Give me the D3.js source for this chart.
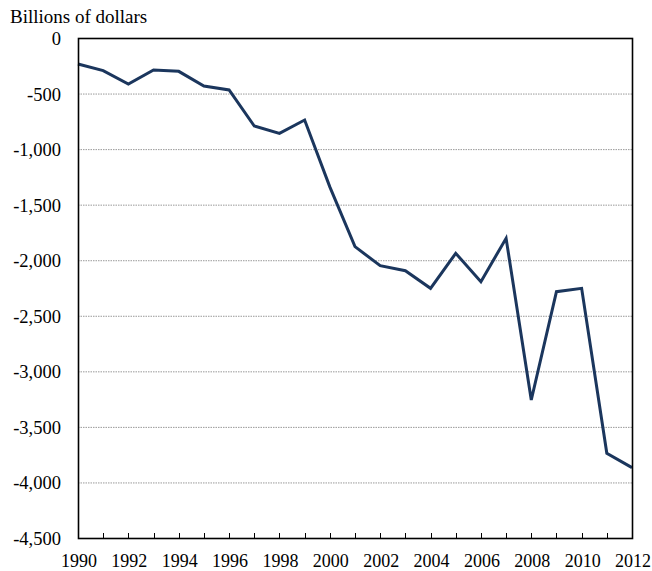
<!DOCTYPE html>
<html><head><meta charset="utf-8">
<script src="https://cdn.jsdelivr.net/npm/d3@7"></script>
<style>body{margin:0;background:#fff}svg{display:block}</style>
</head><body><svg id="c" width="652" height="571" font-family="'Liberation Serif', 'Times New Roman', Times, serif"></svg>
<script>
const years = d3.range(1990, 2013);
const values = [-234,-294,-414,-288,-300,-432,-468,-792,-858,-738,-1340,-1878,-2049,-2094,-2253,-1938,-2193,-1803,-3258,-2283,-2253,-3738,-3867];
const yTicks = [0,-500,-1000,-1500,-2000,-2500,-3000,-3500,-4000,-4500];
const xLabels = d3.range(1990, 2013, 2);
const yTitle = "Billions of dollars";

const svg = d3.select("#c");
const FONT = "'Liberation Serif', 'Times New Roman', Times, serif";
const L=78, R=632, T=38, B=538;
const x = d3.scaleLinear().domain([1990,2012]).range([L,R]);
const y = d3.scaleLinear().domain([0,-4500]).range([T,B]);
const loc = d3.formatLocale({decimal:".", thousands:",", grouping:[3], currency:["$",""], minus:"-"});
const fmt = loc.format(",");

svg.append("g").selectAll("line").data(yTicks.filter(v=>v!==0&&v!==-4500)).join("line")
  .attr("x1",L).attr("x2",R).attr("y1",d=>y(d)+0.5).attr("y2",d=>y(d)+0.5)
  .attr("stroke","#999").attr("stroke-width",1).attr("stroke-dasharray","1.5,1");

svg.append("g").selectAll("text").data(yTicks).join("text")
  .attr("x",61).attr("y",d=>y(d)+7).attr("text-anchor","end").attr("font-size",18.5)
  .attr("font-family",FONT).text(d=>fmt(d));

svg.append("g").selectAll("line").data(years.slice(1,-1)).join("line")
  .attr("x1",d=>Math.round(x(d))+0.5).attr("x2",d=>Math.round(x(d))+0.5)
  .attr("y1",B).attr("y2",B-5).attr("stroke","#000").attr("stroke-width",1);

svg.append("g").selectAll("text").data(xLabels).join("text")
  .attr("x",d=>x(d)+1).attr("y",567).attr("text-anchor","middle").attr("font-size",18)
  .attr("font-family",FONT).text(d=>d);

svg.append("text").attr("x",10).attr("y",23).attr("font-size",19)
  .attr("font-family",FONT).text(yTitle);

const line = d3.line().x((d,i)=>x(years[i])).y(d=>y(d));
svg.append("path").datum(values).attr("d",line).attr("fill","none")
  .attr("stroke","#1b365d").attr("stroke-width",3).attr("stroke-linejoin","miter");

svg.append("rect").attr("x",L+0.5).attr("y",T+0.5).attr("width",R-L).attr("height",B-T)
  .attr("fill","none").attr("stroke","#000").attr("stroke-width",1.6);
</script></body></html>
